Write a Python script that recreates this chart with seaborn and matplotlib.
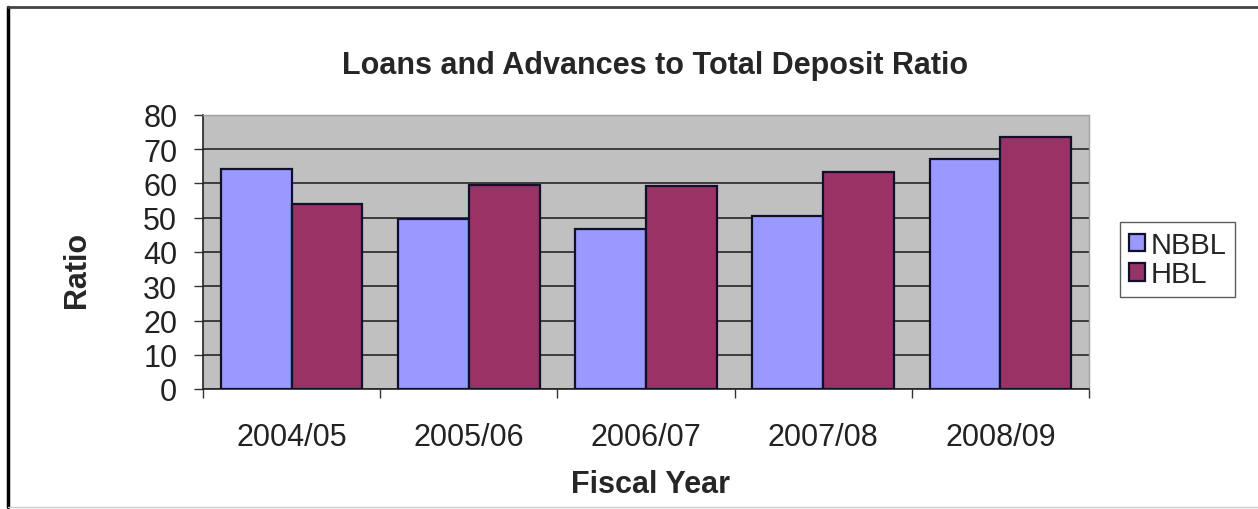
import pandas as pd
import numpy as np
import matplotlib.pyplot as plt
from matplotlib.lines import Line2D
import seaborn as sns

years = ['2004/05', '2005/06', '2006/07', '2007/08', '2008/09']
banks = ['NBBL', 'HBL']
nbbl = [64.2, 49.6, 46.7, 50.4, 67.2]
hbl = [54.0, 59.6, 59.4, 63.5, 73.6]

df = pd.DataFrame({
    'year': years * 2,
    'bank': ['NBBL'] * len(years) + ['HBL'] * len(years),
    'ratio': nbbl + hbl,
})

sns.set_style('white')
plt.rcParams['font.family'] = ['Liberation Sans', 'DejaVu Sans']

fig = plt.figure(figsize=(12.58, 5.1), dpi=100)
ax = fig.add_axes([203 / 1258, 1 - 390 / 510, (1089 - 203) / 1258, (390 - 116) / 510])
ax.set_facecolor('#C0C0C0')

sns.barplot(data=df, x='year', y='ratio', hue='bank', hue_order=banks,
            palette=['#9999FF', '#993366'], width=0.8, saturation=1,
            edgecolor='#10102a', linewidth=1.6, ax=ax, zorder=3)

ax.set_ylim(0, 80)
ax.set_xlim(-0.5, 4.5)
ax.set_yticks(range(0, 81, 10))
ax.yaxis.grid(True, color='#1a1a1a', linewidth=1.1, zorder=0)
ax.set_axisbelow(True)

# ticks
ax.tick_params(axis='y', direction='out', length=6.5, width=1, color='#333333',
               labelsize=22, pad=12, left=True)
ax.set_xticks(range(len(years)))
ax.set_xticklabels(years)
ax.tick_params(axis='x', which='major', length=0, labelsize=22, pad=24)
ax.set_xticks(np.arange(-0.5, 5, 1), minor=True)
ax.tick_params(axis='x', which='minor', direction='out', length=6.5, width=1,
               color='#333333', bottom=True)
for lab in ax.get_xticklabels() + ax.get_yticklabels():
    lab.set_color('#222222')

for side in ['left', 'bottom']:
    ax.spines[side].set_color('#222222')
    ax.spines[side].set_linewidth(1.2)
for side in ['top', 'right']:
    ax.spines[side].set_color('#a0a0a0')
    ax.spines[side].set_linewidth(1)

ax.set_xlabel('Fiscal Year', fontsize=22, fontweight='bold')
ax.xaxis.set_label_coords(0.505, (390 - 470) / 274)
ax.set_ylabel('Ratio', fontsize=22, fontweight='bold')
ax.yaxis.set_label_coords((92 - 203) / 886, (390 - 270) / 274)
ax.set_title('Loans and Advances to Total Deposit Ratio', fontsize=22,
             fontweight='bold', pad=30, x=(655 - 203) / 886)

handles, labels = ax.get_legend_handles_labels()
ax.legend(handles, labels, loc='upper left',
          bbox_to_anchor=(1120 / 1258, 1 - 223 / 510), bbox_transform=fig.transFigure,
          fontsize=21, frameon=True, fancybox=False, edgecolor='#333333',
          handlelength=0.55, handleheight=0.55, handletextpad=0.2,
          borderpad=0.3, labelspacing=0.05, borderaxespad=0)

# outer border of the chart
fig.add_artist(Line2D([8 / 1258, 8 / 1258], [1 - 8 / 510, 1 - 508 / 510],
                      color='black', linewidth=2.5, transform=fig.transFigure))
fig.add_artist(Line2D([8 / 1258, 1], [1 - 8 / 510, 1 - 8 / 510],
                      color='#444444', linewidth=2, transform=fig.transFigure))
fig.add_artist(Line2D([8 / 1258, 1], [1 - 508 / 510, 1 - 508 / 510],
                      color='#cccccc', linewidth=1, transform=fig.transFigure))

plt.savefig('out.png', dpi=100)
